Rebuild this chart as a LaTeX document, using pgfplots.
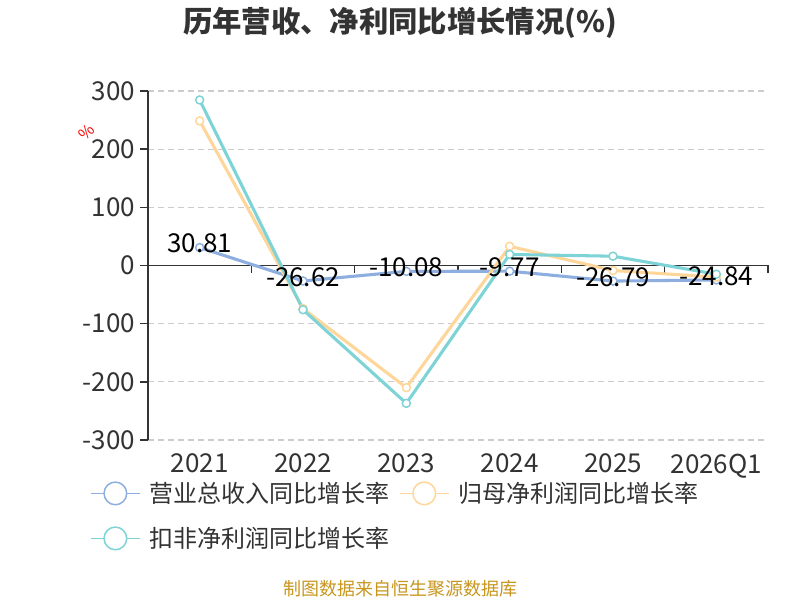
\documentclass[border=0pt]{standalone}
\usepackage{pgfplots}
\pgfplotsset{compat=1.18}
\usepackage{fontspec}
\setmainfont{Noto Sans CJK SC}
\definecolor{revc}{HTML}{8DAEDE}
\definecolor{netc}{HTML}{FFD699}
\definecolor{kfc}{HTML}{7ED3D6}
\definecolor{txt}{HTML}{333333}
\definecolor{footc}{HTML}{C8961E}
\definecolor{gridc}{HTML}{CCCCCC}
\begin{document}
\begin{tikzpicture}[x=0.75pt,y=0.75pt]
\path[use as bounding box,fill=white] (0,0) rectangle (800,600);
\coordinate (O) at (148,160);
\node[font=\bfseries\fontsize{22}{24}\selectfont,text=txt] at (400,577) {历年营收、净利同比增长情况(\%)};
\node[font=\fontsize{13.5}{15}\selectfont,text=footc] at (400,11) {制图数据来自恒生聚源数据库};
\node[font=\fontsize{12}{14}\selectfont,text=red,rotate=45] at (87,468) {\%};
\begin{axis}[
  at={(O)}, anchor=south west, scale only axis,
  width=465pt, height=261.75pt,
  xmin=-0.5, xmax=5.5, ymin=-300, ymax=300,
  clip=false,
  axis y line*=left, axis x line*=bottom,
  x axis line style={draw=none},
  y axis line style={draw=txt,line width=1.1pt,-},
  xtick={0,1,2,3,4,5},
  xticklabels={2021,2022,2023,2024,2025,2026Q1},
  xtick style={draw=none},
  ytick={-300,-200,...,300},
  ytick style={draw=txt,line width=1.1pt},
  tick align=outside, major tick length=6pt,
  ymajorgrids,
  major grid style={draw=gridc,line width=0.8pt,dash pattern=on 4.5pt off 3pt},
  tick label style={font=\fontsize{19.5}{21}\selectfont,text=txt},
  /pgf/number format/assume math mode=true,
  xticklabel style={yshift=-1pt},
  legend columns=2,
  legend style={at={(-0.1005,-0.105)},anchor=north west,draw=none,fill=none,
    font=\fontsize{18}{20}\selectfont,text=txt,
    /tikz/every even column/.append style={column sep=5pt},
    row sep=13pt},
  legend cell align=left,
  legend image code/.code={
    \draw[mark=none,line width=1.1pt] (0pt,0pt) -- (37pt,0pt);
    \draw[mark=none,line width=1.1pt,fill=white] (18.5pt,0pt) circle (8.5pt);
    \path (41pt,0pt);},
  every axis plot/.append style={line width=2.3pt, mark=*, mark size=3pt,
    mark options={fill=white,line width=1.1pt}},
]
\draw[draw=txt,line width=1.1pt] (axis cs:-0.5,0) -- (axis cs:5.5,0);
\pgfplotsinvokeforeach{0.5,1.5,2.5,3.5,4.5,5.5}{
  \draw[draw=txt,line width=1.1pt] (axis cs:#1,0) -- ++(0pt,-6pt);
}
\addplot[color=revc] coordinates {(0,30.81) (1,-26.62) (2,-10.08) (3,-9.77) (4,-26.79) (5,-24.84)};
\addlegendentry{营业总收入同比增长率}
\addplot[color=netc] coordinates {(0,248.6) (1,-74) (2,-210) (3,33) (4,-8.6) (5,-20)};
\addlegendentry{归母净利润同比增长率}
\addplot[color=kfc] coordinates {(0,284.6) (1,-76) (2,-237) (3,19) (4,16) (5,-15)};
\addlegendentry{扣非净利润同比增长率}
\addplot[forget plot, draw=none, mark=none, point meta=explicit symbolic,
  nodes near coords,
  every node near coord/.append style={anchor=center,yshift=3pt,text=black,
    font=\fontsize{19.5}{21}\selectfont}]
  coordinates {(0,30.81) [30.81] (1,-26.62) [-26.62] (2,-10.08) [-10.08]
               (3,-9.77) [-9.77] (4,-26.79) [-26.79] (5,-24.84) [-24.84]};
\end{axis}
\end{tikzpicture}
\end{document}
